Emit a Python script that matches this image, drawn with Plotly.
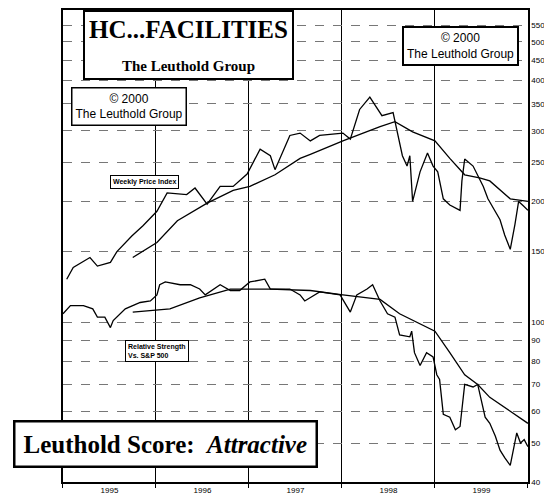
import plotly.graph_objects as go

# weekly price index (decimal years, index value)
price_x = [1995.04, 1995.11, 1995.29, 1995.37, 1995.51, 1995.58, 1995.74, 1995.86, 1996.01, 1996.12,
           1996.33, 1996.42, 1996.55, 1996.69, 1996.83, 1996.98, 1997.12, 1997.23, 1997.28, 1997.44,
           1997.55, 1997.66, 1997.76, 1998.01, 1998.09, 1998.19, 1998.30, 1998.43, 1998.55, 1998.60,
           1998.65, 1998.70, 1998.73, 1998.76, 1998.84, 1998.92, 1998.98, 1999.03, 1999.09, 1999.16,
           1999.27, 1999.29, 1999.32, 1999.41, 1999.46, 1999.52, 1999.57, 1999.65, 1999.70, 1999.75,
           1999.81, 1999.86, 1999.90, 1999.95, 2000.0]
price_y = [128, 137, 145, 138, 141, 150, 164, 174, 189, 210,
           208, 216, 197, 218, 218, 234, 270, 260, 240, 292,
           296, 283, 292, 296, 286, 339, 364, 327, 333, 292,
           260, 245, 260, 200, 237, 264, 245, 237, 203, 196,
           190, 225, 255, 245, 233, 218, 203, 189, 180, 165,
           152, 175, 200, 195, 190]

price_ma_x = [1995.75, 1996.01, 1996.23, 1996.55, 1996.83, 1997.01, 1997.28, 1997.55, 1997.66, 1998.01,
              1998.41, 1998.57, 1998.76, 1999.0, 1999.16, 1999.32, 1999.48, 1999.59, 1999.81, 2000.0]
price_ma_y = [145, 158, 179, 198, 213, 218, 233, 256, 262, 283,
              307, 316, 298, 283, 256, 233, 229, 225, 203, 200]

# relative strength vs S&P 500
rs_x = [1995.0, 1995.08, 1995.22, 1995.32, 1995.37, 1995.45, 1995.51, 1995.54, 1995.67, 1995.83,
        1995.94, 1996.01, 1996.04, 1996.10, 1996.26, 1996.37, 1996.47, 1996.53, 1996.69, 1996.80,
        1996.90, 1997.01, 1997.17, 1997.23, 1997.44, 1997.55, 1997.60, 1997.76, 1997.98, 1998.09,
        1998.16, 1998.27, 1998.33, 1998.41, 1998.49, 1998.57, 1998.62, 1998.73, 1998.75, 1998.78,
        1998.84, 1998.91, 1998.98, 1999.02, 1999.05, 1999.09, 1999.16, 1999.22, 1999.27, 1999.29,
        1999.32, 1999.41, 1999.46, 1999.54, 1999.59, 1999.65, 1999.70, 1999.75, 1999.81, 1999.88,
        1999.92, 1999.96, 2000.0]
rs_y = [105, 110, 110, 108, 103, 103, 97, 101, 108, 112,
        113, 117, 124, 126, 124, 124, 121, 117, 124, 120,
        120, 126, 128, 121, 121, 117, 113, 119, 117, 106,
        117, 121, 124, 113, 105, 103, 93, 92, 95, 84,
        78, 84, 82, 74, 72, 59, 58, 54, 55, 61,
        70, 69, 70, 58, 56, 52, 48, 46, 44, 53,
        50, 51, 49]

rs_ma_x = [1995.75, 1996.15, 1996.47, 1996.80, 1997.23, 1997.66, 1998.01, 1998.41, 1998.62, 1999.0,
           1999.16, 1999.32, 1999.46, 1999.59, 1999.81, 2000.0]
rs_ma_y = [106, 108, 115, 121, 121, 120, 117, 114, 105, 95,
           84, 74, 70, 65, 60, 56]

year_labels = ["1995", "1996", "1997", "1998", "1999"]
y_ticks = [40, 50, 60, 70, 80, 90, 100, 150, 200, 250, 300, 350, 400, 450, 500, 550, 600]

fig = go.Figure()
for xs, ys in [(price_x, price_y), (price_ma_x, price_ma_y), (rs_x, rs_y), (rs_ma_x, rs_ma_y)]:
    fig.add_trace(go.Scatter(x=xs, y=ys, mode="lines", line=dict(color="black", width=1.3),
                             hoverinfo="skip"))

serif = "Liberation Serif"
sans = "Liberation Sans"

fig.update_layout(
    width=536, height=493,
    margin=dict(l=0, r=0, t=0, b=0),
    paper_bgcolor="white", plot_bgcolor="white",
    showlegend=False,
    xaxis=dict(domain=[0.1026, 0.970], range=[1995.0, 2000.0],
               tickvals=[1995.5, 1996.5, 1997.5, 1998.5, 1999.5], ticktext=year_labels,
               ticks="", showgrid=False, zeroline=False, automargin=False,
               showline=True, linecolor="black", linewidth=1.5, mirror=True,
               tickfont=dict(family=sans, size=8, color="black"),
               minor=dict(tick0=1995, dtick=1, showgrid=True, gridcolor="black", gridwidth=1,
                          ticks="outside", ticklen=4, tickcolor="black")),
    yaxis=dict(domain=[0.0385, 0.996], type="log", range=[1.602, 2.778], side="right",
               tickvals=y_ticks, ticktext=[str(v) for v in y_ticks], automargin=False,
               showgrid=True, gridcolor="#777", gridwidth=1, griddash="dash",
               showline=True, linecolor="black", linewidth=1.5, mirror=True,
               ticks="", tickfont=dict(family=sans, size=8, color="black")),
)

box = dict(xref="paper", yref="paper", showarrow=False, xanchor="center", yanchor="middle",
           bgcolor="white", bordercolor="black")
fig.add_annotation(x=0.336, y=0.925, **box, borderwidth=2, borderpad=4,
                   text="<b>HC...FACILITIES</b><br><span style='font-size:15px'><b>The Leuthold Group</b></span>",
                   font=dict(family=serif, size=25, color="black"))
fig.add_annotation(x=0.845, y=0.923, **box, borderwidth=2, borderpad=3,
                   text="© 2000<br>The Leuthold Group",
                   font=dict(family=sans, size=12, color="black"))
fig.add_annotation(x=0.226, y=0.801, **box, borderwidth=1.5, borderpad=3,
                   text="© 2000<br>The Leuthold Group",
                   font=dict(family=sans, size=12, color="black"))
fig.add_annotation(x=0.254, y=0.647, **box, borderwidth=1, borderpad=2,
                   text="<b>Weekly Price Index</b>",
                   font=dict(family=sans, size=7, color="black"))
fig.add_annotation(x=0.278, y=0.304, **box, borderwidth=1, borderpad=2, align="left",
                   text="<b>Relative Strength<br>Vs. S&P 500</b>",
                   font=dict(family=sans, size=7, color="black"))
fig.add_annotation(x=0.293, y=0.116, **box, borderwidth=2.5, borderpad=8,
                   text="<b>Leuthold Score:  <i>Attractive</i></b>",
                   font=dict(family=serif, size=25, color="black"))

fig.write_html("out.html")
